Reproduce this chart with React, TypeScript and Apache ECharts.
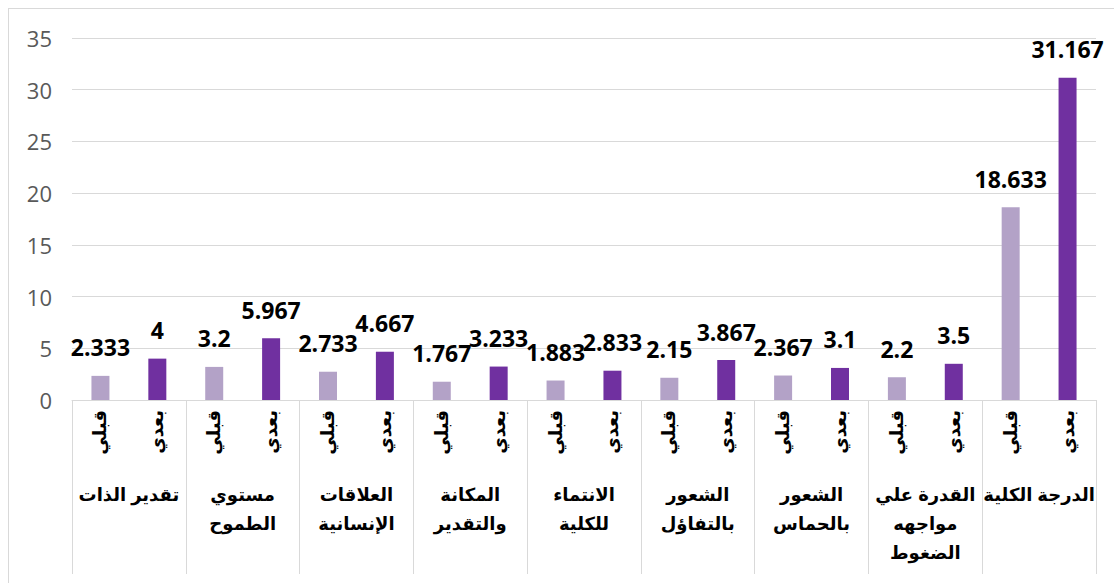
import React, { useEffect, useRef } from "react";
import * as echarts from "echarts";

const groups = [
  "تقدير الذات",
  "مستوي\nالطموح",
  "العلاقات\nالإنسانية",
  "المكانة\nوالتقدير",
  "الانتماء\nللكلية",
  "الشعور\nبالتفاؤل",
  "الشعور\nبالحماس",
  "القدرة علي\nمواجهه\nالضغوط",
  "الدرجة الكلية",
];
const preLabel = "قبلي";
const postLabel = "بعدي";
const preValues = [2.333, 3.2, 2.733, 1.767, 1.883, 2.15, 2.367, 2.2, 18.633];
const postValues = [4, 5.967, 4.667, 3.233, 2.833, 3.867, 3.1, 3.5, 31.167];
const yTicks = { min: 0, max: 35, interval: 5 };

const PRE_COLOR = "#b3a2c7";
const POST_COLOR = "#7030a0";

export default function App() {
  const ref = useRef<HTMLDivElement>(null);
  useEffect(() => {
    if (!ref.current) return;
    const chart = echarts.init(ref.current, null, { renderer: "svg" });
    const subCats: string[] = [];
    const data: any[] = [];
    groups.forEach((_, i) => {
      subCats.push(preLabel, postLabel);
      data.push({ value: preValues[i], itemStyle: { color: PRE_COLOR } });
      data.push({ value: postValues[i], itemStyle: { color: POST_COLOR } });
    });
    chart.setOption({
      animation: false,
      grid: { left: 63, top: 29, width: 1024, height: 362, containLabel: false },
      xAxis: [
        {
          type: "category",
          data: subCats,
          position: "bottom",
          axisLine: { lineStyle: { color: "#d9d9d9", width: 1 } },
          axisTick: { show: false },
          axisLabel: {
            interval: 0,
            rotate: 90,
            margin: 10,
            fontFamily: "Liberation Sans, DejaVu Sans, sans-serif",
            fontWeight: "bold",
            fontSize: 18,
            color: "#000",
          },
        },
        {
          type: "category",
          data: groups,
          position: "bottom",
          axisLine: { show: false },
          axisTick: { show: true, length: 174, lineStyle: { color: "#d9d9d9", width: 1 } },
          axisLabel: {
            interval: 0,
            margin: 80,
            fontFamily: "Liberation Sans, DejaVu Sans, sans-serif",
            fontWeight: "bold",
            fontSize: 18,
            lineHeight: 29,
            color: "#000",
            verticalAlign: "top",
          },
        },
      ],
      yAxis: {
        type: "value",
        min: yTicks.min,
        max: yTicks.max,
        interval: yTicks.interval,
        axisLine: { show: false },
        axisTick: { show: false },
        splitLine: { lineStyle: { color: "#d9d9d9", width: 1 } },
        axisLabel: {
          margin: 20,
          fontFamily: "Open Sans, sans-serif",
          fontSize: 22,
          color: "#595959",
        },
      },
      series: [
        {
          type: "bar",
          xAxisIndex: 0,
          data,
          barWidth: 18,
          label: {
            show: true,
            position: "top",
            distance: 17,
            fontFamily: "Open Sans, sans-serif",
            fontWeight: "bold",
            fontSize: 23,
            color: "#000",
          },
        },
      ],
    });
    return () => chart.dispose();
  }, []);
  return (
    <div
      style={{
        position: "fixed",
        left: 8,
        top: 8,
        width: 1120,
        height: 600,
        border: "1px solid #d9d9d9",
        boxSizing: "border-box",
        background: "#fff",
      }}
    >
      <div ref={ref} style={{ width: 1118, height: 598 }} />
    </div>
  );
}
